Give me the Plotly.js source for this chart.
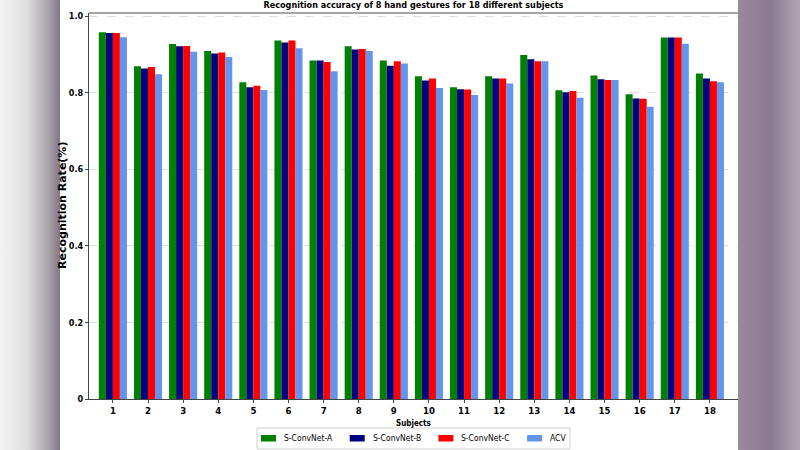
<!DOCTYPE html>
<html>
<head>
<meta charset="utf-8">
<script src="https://cdn.plot.ly/plotly-3.0.1.min.js"></script>
<style>
html,body{margin:0;padding:0;width:800px;height:450px;overflow:hidden;}
body{background:linear-gradient(to right,#f4f4f4 0px,#dcdcdc 28px,#a9a3aa 48px,#85798a 59px,#85798a 60px,#ffffff 60px,#ffffff 738px,#9a8a9e 738px,#8a7890 770px,#b3a5b5 800px);}
#panel{position:absolute;left:60px;top:0;width:678px;height:450px;background:#fff;}
#chart{position:absolute;left:0;top:0;width:800px;height:450px;}
</style>
</head>
<body>
<div id="panel"></div>
<div id="chart"></div>
<script>
const subjects = ["1","2","3","4","5","6","7","8","9","10","11","12","13","14","15","16","17","18"];
const seriesNames = ["S-ConvNet-A","S-ConvNet-B","S-ConvNet-C","ACV"];
const convA = [0.958,0.869,0.927,0.909,0.827,0.936,0.884,0.921,0.884,0.843,0.814,0.843,0.898,0.806,0.845,0.796,0.944,0.850];
const convB = [0.956,0.863,0.921,0.902,0.814,0.931,0.884,0.913,0.870,0.832,0.809,0.837,0.887,0.801,0.835,0.785,0.944,0.837];
const convC = [0.956,0.867,0.922,0.905,0.818,0.936,0.880,0.914,0.882,0.837,0.808,0.837,0.882,0.804,0.833,0.784,0.944,0.830];
const acv   = [0.945,0.848,0.907,0.893,0.807,0.916,0.856,0.909,0.876,0.812,0.794,0.824,0.882,0.787,0.833,0.763,0.928,0.827];
const yTickVals = [0,0.2,0.4,0.6,0.8,1.0];
const yTickText = ["0","0.2","0.4","0.6","0.8","1.0"];

const colors = ["#008000","#000080","#ff0000","#6495ed"];
const allVals = [convA,convB,convC,acv];
const xNum = subjects.map(s => Number(s));

const traces = allVals.map((vals,i) => ({
  type:'bar', name: seriesNames[i], x: xNum, y: vals,
  marker:{color: colors[i], line:{width:0}},
  hoverinfo:'skip', showlegend:false
}));

const N = "DejaVu Sans Condensed, DejaVu Sans, sans-serif";
const D = "DejaVu Sans, sans-serif";

// plot area in pixels (for legend/label placement helpers)
const PL = 89, PW = 649, PB = 399, PH = 386;
const px = v => (v - PL) / PW;
const py = v => (PB - v) / PH;

// custom legend (box + swatches + labels) built from seriesNames/colors
const legShapes = [{type:'rect', xref:'paper', yref:'paper', x0:px(257), x1:px(570), y0:py(449), y1:py(428),
  line:{color:'#cfcfcf', width:1}, fillcolor:'#fff', layer:'above'}];
const legAnn = [];
seriesNames.forEach((n,i) => {
  const sx = 261 + i*88.7;
  legShapes.push({type:'rect', xref:'paper', yref:'paper', x0:px(sx), x1:px(sx+15), y0:py(441.5), y1:py(435),
    line:{width:0}, fillcolor:colors[i], layer:'above'});
  legAnn.push({text:n, xref:'paper', yref:'paper', x:px(sx+21), y:py(438.5), xanchor:'left', yanchor:'middle',
    showarrow:false, font:{family:N, size:8.5, color:'#000'}});
});

const layout = {
  width:800, height:450,
  paper_bgcolor:'rgba(0,0,0,0)', plot_bgcolor:'rgba(0,0,0,0)',
  margin:{l:89, r:62, t:13, b:51, autoexpand:false},
  barmode:'group', bargap:0.2, bargroupgap:0,
  showlegend:false,
  title:{text:'<b>Recognition accuracy of 8 hand gestures for 18 different subjects</b>',
    font:{family:N, size:9, color:'#000'}, x:0.5, xref:'paper', xanchor:'center',
    y:0.989, yref:'container', yanchor:'middle'},
  xaxis:{range:[0.32,18.8], tickvals:xNum, ticktext:subjects.map(s=>'<b>'+s+'</b>'),
    tickfont:{family:N, size:9.5, color:'#000'}, showgrid:false, zeroline:false,
    showline:true, linecolor:'#444', linewidth:1, ticks:'outside', ticklen:3, tickcolor:'#444'},
  yaxis:{range:[0,1.008], tickvals:yTickVals, ticktext:yTickText.map(s=>'<b>'+s+'</b>'),
    tickfont:{family:N, size:9, color:'#000'}, showgrid:true, gridcolor:'rgba(190,190,190,0.5)', griddash:'dash', gridwidth:1,
    zeroline:false, showline:true, linecolor:'#444', linewidth:1, ticks:'outside', ticklen:3, tickcolor:'#444'},
  shapes:[{type:'line', xref:'paper', yref:'paper', x0:0, x1:1, y0:1, y1:1, line:{color:'#888', width:1.5}}].concat(legShapes),
  annotations:[
    {text:'<b>Recognition Rate(%)</b>', textangle:-90, xref:'paper', yref:'paper',
     x:px(62), y:0.5, xanchor:'center', yanchor:'middle', showarrow:false,
     font:{family:D, size:11, color:'#000'}},
    {text:'<b>Subjects</b>', xref:'paper', yref:'paper',
     x:0.5, y:py(423), xanchor:'center', yanchor:'middle', showarrow:false,
     font:{family:N, size:8, color:'#000'}}
  ].concat(legAnn)
};
Plotly.newPlot('chart', traces, layout, {displayModeBar:false, staticPlot:true});
</script>
</body>
</html>
